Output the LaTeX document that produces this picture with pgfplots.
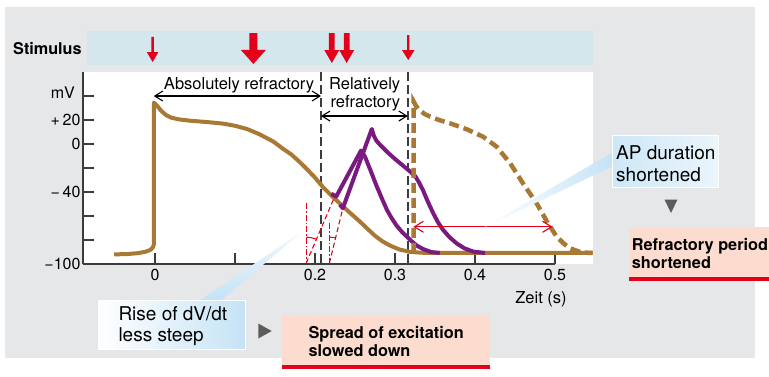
\documentclass[border=0pt]{standalone}
\usepackage{pgfplots}
\usepackage{pgfplotstable}
\pgfplotsset{compat=1.18}
\usepackage{fontspec}
\setmainfont{TeX Gyre Heros}
\usetikzlibrary{arrows.meta}

\definecolor{bggray}{HTML}{E6E7E9}
\definecolor{stimband}{HTML}{D4E7ED}
\definecolor{apbrown}{HTML}{A87834}
\definecolor{appurple}{HTML}{7A1A80}
\definecolor{stimred}{HTML}{E2001A}
\definecolor{axgray}{HTML}{3C3C3C}
\definecolor{boxblue}{HTML}{C5E3F6}
\definecolor{boxsalmon}{HTML}{FBDCCF}
\definecolor{trigray}{HTML}{5C5C5C}

% normal action potential
\pgfplotstableread{
t V
-0.051 -92.0
-0.035 -91.7
-0.022 -91.0
-0.012 -89.8
-0.006 -88.3
-0.003 -86.5
-0.0015 -84
-0.0015 34.5
0.003 31.5
0.008 27.5
0.014 24
0.020 22
0.030 20.5
0.044 19.4
0.065 18.3
0.085 17.0
0.100 15.2
0.115 12.5
0.130 8.3
0.148 2.0
0.160 -4.0
0.170 -8.5
0.180 -14.5
0.190 -21.0
0.200 -28
0.210 -36
0.223 -44.5
0.235 -52
0.244 -57.5
0.255 -64
0.265 -70.3
0.275 -76.5
0.285 -81.4
0.295 -85
0.306 -88
0.319 -89.9
0.333 -90.6
0.350 -90.8
0.547 -90.8
}\apnormal

% early excitations in the relative refractory period
\pgfplotstableread{
t V
0.2205 -41.5
0.2265 -43.8
0.2575 -5.5
0.2625 -10.6
0.270 -23
0.277 -35
0.284 -46
0.290 -55
0.296 -62
0.302 -68
0.309 -73.5
0.3146 -77
0.320 -80.5
0.327 -84.5
0.335 -87.5
0.345 -90
0.356 -90.8
}\apearlyA

\pgfplotstableread{
t V
0.231 -50.5
0.2348 -53.5
0.271 12.5
0.2735 7
0.2765 3
0.281 -0.5
0.290 -6.5
0.300 -12.5
0.310 -18
0.319 -23
0.3255 -27
0.330 -32
0.335 -38.5
0.341 -48
0.348 -58
0.354 -65.5
0.360 -71.5
0.368 -77.5
0.377 -82.8
0.387 -87
0.398 -89.7
0.4125 -90.8
}\apearlyB

% excitation after the refractory period
\pgfplotstableread{
t V
0.3232 -90.8
0.3232 35.5
0.3265 31.5
0.331 28
0.337 25
0.344 22.8
0.356 19.8
0.369 17.2
0.390 12.2
0.410 6.1
0.427 -2.2
0.444 -16.1
0.460 -32.8
0.477 -49.4
0.490 -64.7
0.502 -77.2
0.511 -83
0.519 -87
0.533 -90.4
0.547 -90.8
}\aplate

\newcommand{\txt}[1]{\fontsize{#1}{#1}\selectfont}
% stimulus arrow: t, Vtop, Vtip, half shaft, half head, head length
\newcommand{\stim}[6]{%
  \fill[stimred] ([xshift=-#4]axis cs:#1,#2) -- ([xshift=#4]axis cs:#1,#2)
    -- ([xshift=#4,yshift=#6]axis cs:#1,#3) -- ([xshift=#5,yshift=#6]axis cs:#1,#3)
    -- (axis cs:#1,#3) -- ([xshift=-#5,yshift=#6]axis cs:#1,#3)
    -- ([xshift=-#4,yshift=#6]axis cs:#1,#3) -- cycle;}

\tikzset{dbl/.style={line width=1.1pt,
  {Straight Barb[length=8pt,width=10pt]}-{Straight Barb[length=8pt,width=10pt]}}}

\begin{document}
\begin{tikzpicture}[x=1pt,y=1pt]
\path[use as bounding box] (0,0) rectangle (769,-376);
\fill[bggray] (5,-7) rectangle (755,-358);
\fill[stimband] (87.3,-31) rectangle (593.3,-65);
\node[anchor=base west, inner sep=0pt, font=\bfseries\txt{16.2}] at (13,-54.3) {Stimulus};
\node[anchor=base east, inner sep=0pt, font=\txt{16}] at (75,-98.3) {mV};

\begin{axis}[
  at={(83pt,-264pt)}, anchor=south west,
  scale only axis, width=510pt, height=192pt,
  xmin=-0.09, xmax=0.5475, ymin=-100, ymax=60,
  clip=false, no markers,
  axis background/.style={fill=white},
  axis x line*=bottom, axis y line*=left,
  x axis line style={draw=none},
  y axis line style={line width=1.8pt, color=axgray},
  tick align=inside, major tick length=11pt,
  tick style={line width=1.3pt, color=axgray},
  xtick={0,0.1,0.2,0.3,0.4,0.5},
  xticklabels={0,,0.2,0.3,0.4,0.5},
  ytick={-100,-80,-60,-40,-20,0,20,40},
  yticklabels={−100,,,−\,40,,0,+\,20,},
  tick label style={font=\txt{16}},
  xticklabel style={yshift=-2pt},
  yticklabel style={xshift=1pt},
]
\draw[line width=1.8pt, axgray] (axis cs:-0.09,-100) -- (axis cs:0.5,-100);

% refractory borders
\draw[axgray, line width=1.4pt, dash pattern=on 9pt off 4pt] (axis cs:0.2075,60) -- (axis cs:0.2075,-100);
\draw[axgray, line width=1.4pt, dash pattern=on 9pt off 4pt] (axis cs:0.316,60) -- (axis cs:0.316,-100);

\addplot[apbrown, line width=4pt, line join=round] table[x=t,y=V] {\apnormal};
\addplot[appurple, line width=4pt, line join=round] table[x=t,y=V] {\apearlyA};
\addplot[appurple, line width=4pt, line join=round] table[x=t,y=V] {\apearlyB};
\addplot[apbrown, line width=4.5pt, dash pattern=on 10pt off 5pt] table[x=t,y=V] {\aplate};

% slopes of the upstrokes
\addplot[stimred, line width=1.1pt, dash pattern=on 6pt off 2pt on 1.5pt off 2pt] coordinates {(0.189,-49.5) (0.189,-99.3)};
\addplot[stimred, line width=1.1pt, dash pattern=on 5pt off 3pt] coordinates {(0.189,-99.3) (0.2245,-44)};
\addplot[stimred, line width=1.1pt, dash pattern=on 6pt off 2pt on 1.5pt off 2pt] coordinates {(0.218,-66) (0.218,-99.3)};
\addplot[stimred, line width=1.1pt, dash pattern=on 5pt off 3pt] coordinates {(0.218,-99.3) (0.235,-53)};
\draw[stimred, line width=1pt] (axis cs:0.189,-99.3) ++(90:26pt) arc[start angle=90, end angle=68, radius=26pt];
\draw[stimred, line width=1pt] (axis cs:0.218,-99.3) ++(90:26pt) arc[start angle=90, end angle=76, radius=26pt];

\draw[stimred, line width=1.1pt, {Straight Barb[length=9pt,width=11pt]}-{Straight Barb[length=9pt,width=11pt]}]
  (axis cs:0.323,-69) -- (axis cs:0.497,-69);

\draw[dbl] (axis cs:-0.0015,40) -- (axis cs:0.2075,40);
\draw[dbl] (axis cs:0.2075,23.3) -- (axis cs:0.316,23.3);

\node[anchor=base, font=\txt{16.5}] at (axis cs:0.105,45.8) {Absolutely refractory};
\node[anchor=base, font=\txt{16.5}] at (axis cs:0.262,45.8) {Relatively};
\node[anchor=base, font=\txt{16.5}] at (axis cs:0.263,30.8) {refractory};
\node[anchor=base, font=\txt{16.5}] at (axis cs:0.4825,-132.5) {Zeit (s)};

% stimuli
\stim{-0.003}{89.2}{68.3}{1.2pt}{5.8pt}{10pt}
\stim{0.123}{92.5}{66.7}{4pt}{12.5pt}{14pt}
\stim{0.221}{92.5}{67.5}{2.9pt}{7.5pt}{13pt}
\stim{0.2396}{92.5}{67.5}{2.9pt}{7.5pt}{13pt}
\stim{0.3166}{90.8}{70}{1.2pt}{6.3pt}{10pt}
\end{axis}

% callouts
\shade[top color=boxblue!30, bottom color=boxblue] (300,-233.3) -- (200,-300) -- (221.7,-300) -- cycle;
\shade[left color=white, right color=boxblue] (98.3,-300) rectangle (245,-349);
\draw[white, line width=1pt] (98.3,-300) rectangle (245,-349);
\node[anchor=base west, inner sep=0pt, font=\txt{19}] at (118.3,-320.7) {Rise of dV/dt};
\node[anchor=base west, inner sep=0pt, font=\txt{19}] at (118.3,-341.7) {less steep};

\fill[trigray] (258.3,-323.5) -- (258.3,-338.5) -- (271.7,-331) -- cycle;

\fill[boxsalmon] (281.7,-315) rectangle (490,-365);
\fill[stimred] (281.7,-365) rectangle (490,-369);
\node[anchor=base west, inner sep=0pt, font=\bfseries\txt{16.3}] at (308.3,-338.3) {Spread of excitation};
\node[anchor=base west, inner sep=0pt, font=\bfseries\txt{16.3}] at (308.3,-356.7) {slowed down};

\shade[left color=white, right color=boxblue] (483,-228) -- (613,-152) -- (613,-166) -- cycle;
\shade[left color=boxblue!85, right color=boxblue!35] (612.7,-135.7) rectangle (718.3,-187.3);
\draw[white, line width=1.2pt] (612.7,-135.7) rectangle (718.3,-187.3);
\node[anchor=base west, inner sep=0pt, font=\txt{19}] at (616,-159.3) {AP duration};
\node[anchor=base west, inner sep=0pt, font=\txt{19}] at (616,-181) {shortened};

\fill[trigray] (664.5,-199.5) -- (677.5,-199.5) -- (671,-213) -- cycle;

\fill[boxsalmon] (628.5,-226.7) rectangle (769,-276.7);
\fill[stimred] (628.5,-276.7) rectangle (769,-280.7);
\node[anchor=base west, inner sep=0pt, font=\bfseries\txt{16.3}] at (631.7,-250.7) {Refractory period};
\node[anchor=base west, inner sep=0pt, font=\bfseries\txt{16.3}] at (631.7,-268.3) {shortened};
\end{tikzpicture}
\end{document}
